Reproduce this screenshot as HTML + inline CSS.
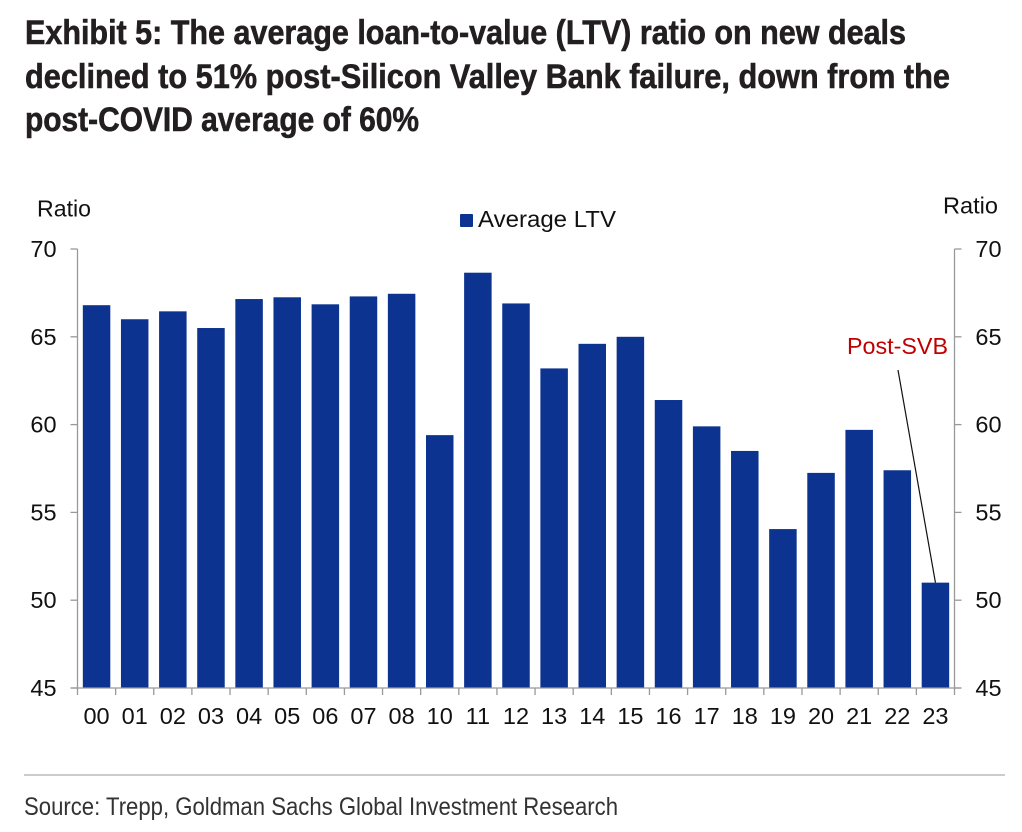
<!DOCTYPE html>
<html lang="en">
<head>
<meta charset="utf-8">
<title>Exhibit 5: Average LTV</title>
<style>
html,body{margin:0;padding:0;background:#fff;width:1022px;height:832px;overflow:hidden}
svg{display:block}
text{font-family:"Liberation Sans",Arial,sans-serif}
</style>
</head>
<body>
<svg id="chart" width="1022" height="832" viewBox="0 0 1022 832" xmlns="http://www.w3.org/2000/svg">
  <g fill="#231f20" font-weight="700" font-size="34.5">
    <text x="25" y="44" textLength="881" lengthAdjust="spacingAndGlyphs" stroke="#231f20" stroke-width="0.6">Exhibit 5: The average loan-to-value (LTV) ratio on new deals</text>
    <text x="25" y="88" textLength="925" lengthAdjust="spacingAndGlyphs" stroke="#231f20" stroke-width="0.6">declined to 51% post-Silicon Valley Bank failure, down from the</text>
    <text x="25" y="131" textLength="394" lengthAdjust="spacingAndGlyphs" stroke="#231f20" stroke-width="0.6">post-COVID average of 60%</text>
  </g>
  <text x="37" y="216.5" font-size="23" fill="#111" textLength="54" lengthAdjust="spacingAndGlyphs">Ratio</text>
  <text x="943" y="213.5" font-size="23" fill="#111" textLength="55" lengthAdjust="spacingAndGlyphs">Ratio</text>
  <g>
    <rect x="460" y="214" width="13" height="13" rx="1" fill="#0c3390"></rect>
    <text x="478" y="227" font-size="23.5" fill="#111" textLength="138" lengthAdjust="spacingAndGlyphs">Average LTV</text>
  </g>
  <g id="bars"></g>
  <g id="axes"></g>
  <text x="847" y="354" font-size="23" fill="#c00000" textLength="101" lengthAdjust="spacingAndGlyphs">Post-SVB</text>
  <line id="leader" x1="898" y1="370" stroke="#111" stroke-width="1.2"></line>
  <line x1="24" y1="775" x2="1005" y2="775" stroke="#999" stroke-width="1"></line>
  <text x="24" y="815" font-size="25" fill="#333" textLength="594" lengthAdjust="spacingAndGlyphs">Source: Trepp, Goldman Sachs Global Investment Research</text>
</svg>
<script>
const categories = ['00','01','02','03','04','05','06','07','08','10','11','12','13','14','15','16','17','18','19','20','21','22','23'];
const averageLtv = [66.8,66,66.45,65.5,67.15,67.25,66.85,67.3,67.45,59.4,68.65,66.9,63.2,64.6,65,61.4,59.9,58.5,54.05,57.25,59.7,57.4,51];
const yTicks = [45,50,55,60,65,70];

const NS = 'http://www.w3.org/2000/svg';
const plotLeft = 77.5, plotRight = 954.5, plotTop = 249, plotBottom = 688;
const yMin = 45, yMax = 70;
const band = (plotRight - plotLeft) / categories.length;
const barWidth = 27.5;
const yScale = v => plotBottom - (v - yMin) / (yMax - yMin) * (plotBottom - plotTop);
const xScale = i => plotLeft + band * (i + 0.5);

function make(tag, attrs, parent, txt) {
  const el = document.createElementNS(NS, tag);
  for (const k in attrs) el.setAttribute(k, attrs[k]);
  if (txt !== undefined) el.textContent = txt;
  parent.appendChild(el);
  return el;
}

const barsG = document.getElementById('bars');
const axesG = document.getElementById('axes');
const axisColor = '#999';

categories.forEach((c, i) => {
  const top = yScale(averageLtv[i]);
  const bar = make('rect', {x: xScale(i) - barWidth / 2, y: top, width: barWidth, height: plotBottom - top, fill: '#0c3390'}, barsG);
  
  
});

[[plotLeft, -1], [plotRight, 1]].forEach(([x, dir]) => {
  const side = dir < 0 ? 'left' : 'right';
  const axis = make('line', {x1: x, x2: x, y1: plotTop, y2: plotBottom, stroke: axisColor, 'stroke-width': 1.3}, axesG);
  
  
  yTicks.forEach(t => {
    const y = yScale(t);
    const tick = make('line', {x1: x, x2: x + dir * 7, y1: y, y2: y, stroke: axisColor, 'stroke-width': 1.3}, axesG);
    
    
    const label = make('text', {x: dir < 0 ? 43.5 : 988.5, y: y + 8, 'font-size': 23.5, fill: '#111', 'text-anchor': 'middle'}, axesG, String(t));
    
    
  });
});

const base = make('line', {x1: plotLeft - 7, x2: plotRight + 7, y1: plotBottom, y2: plotBottom, stroke: axisColor, 'stroke-width': 1.3}, axesG);



for (let i = 0; i <= categories.length; i++) {
  const x = plotLeft + band * i;
  const tick = make('line', {x1: x, x2: x, y1: plotBottom, y2: plotBottom + 7, stroke: axisColor, 'stroke-width': 1.3}, axesG);
  
  
}

categories.forEach((c, i) => {
  const label = make('text', {x: xScale(i), y: 724, 'font-size': 23.5, fill: '#111', 'text-anchor': 'middle'}, axesG, c);
  
  
});

const lastIdx = averageLtv.length - 1;
const leader = document.getElementById('leader');
leader.setAttribute('x2', xScale(lastIdx));
leader.setAttribute('y2', yScale(averageLtv[lastIdx]));
</script>
</body>
</html>
